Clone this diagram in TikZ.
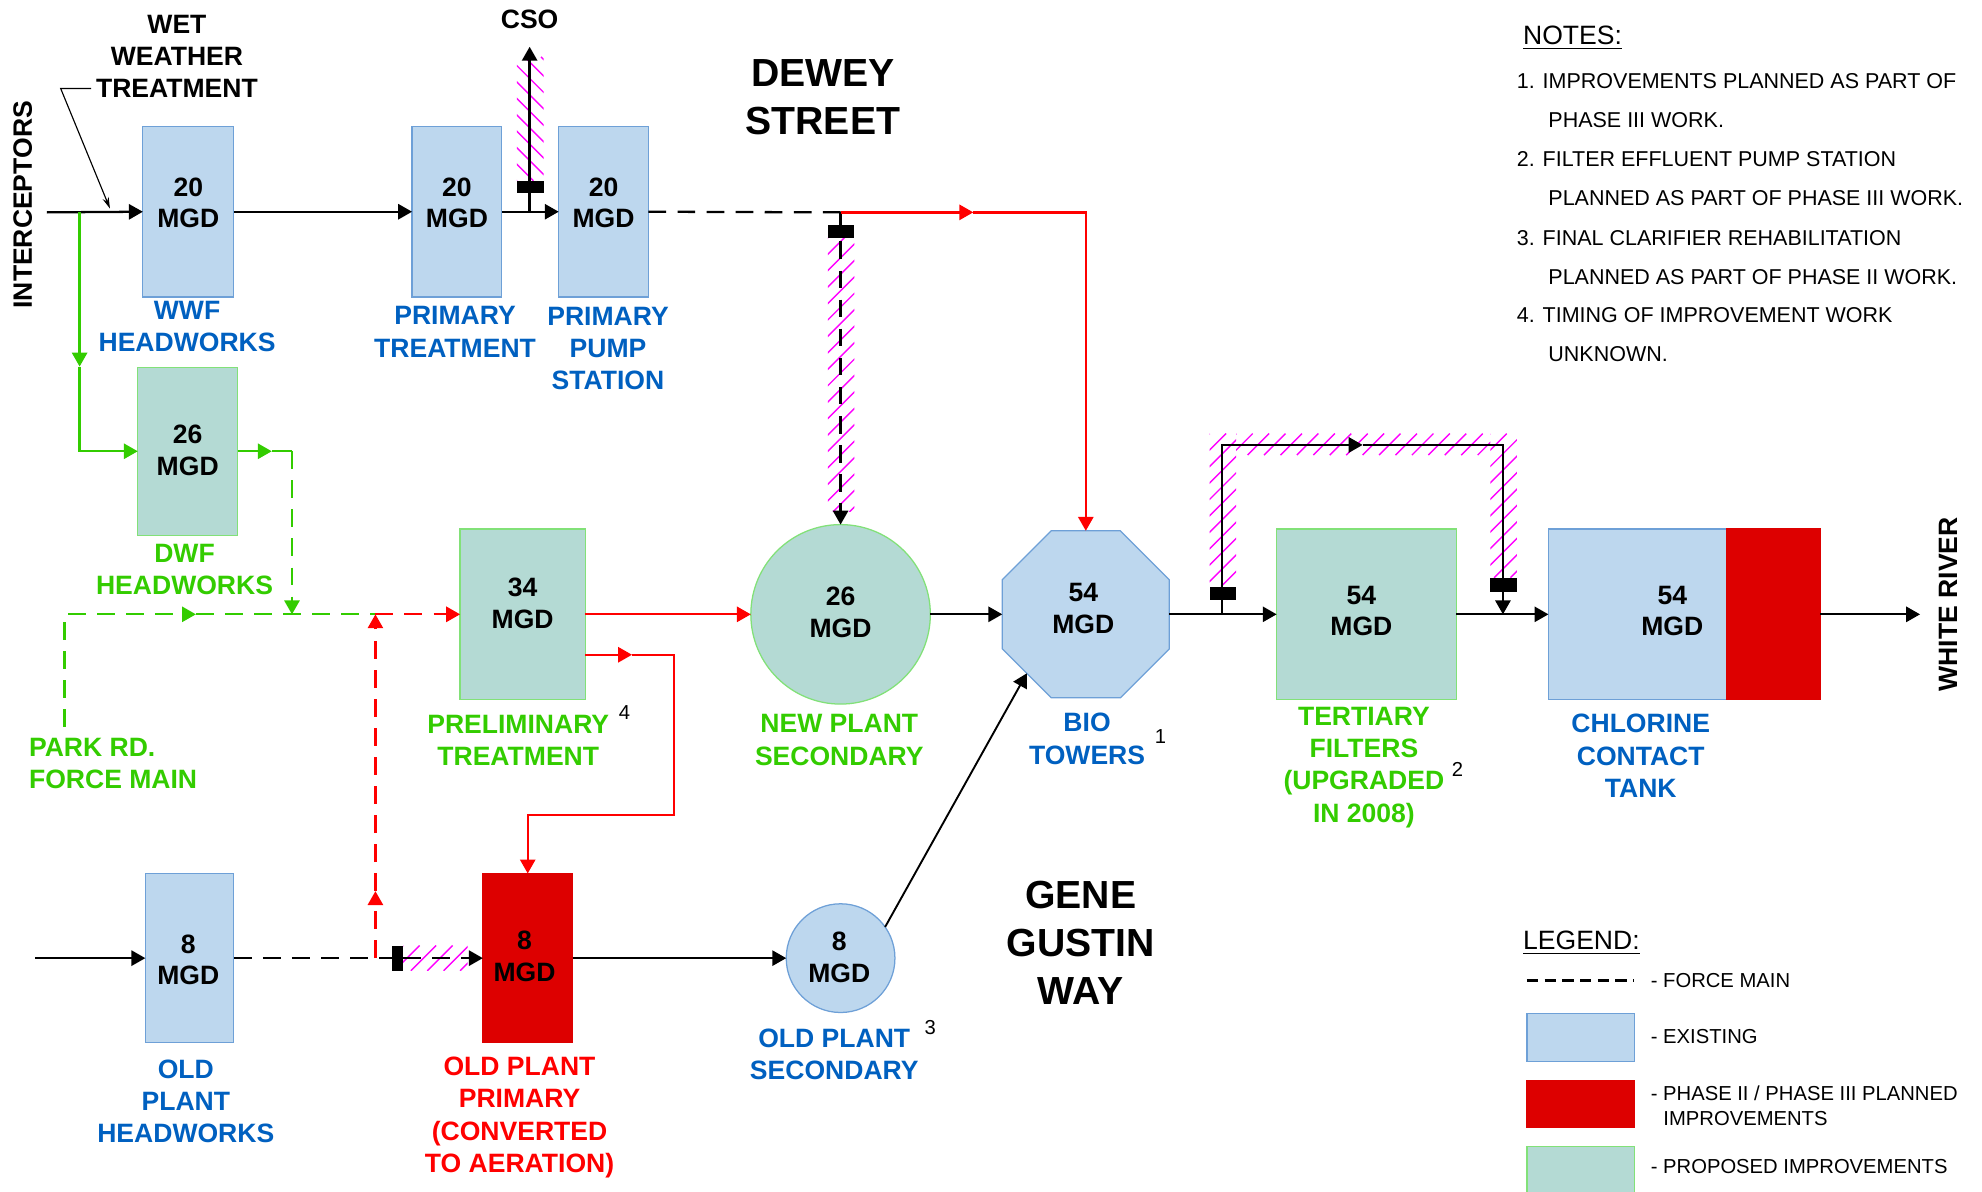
\documentclass[tikz,border=0pt]{standalone}
\usepackage{fontspec}
\setmainfont{Liberation Sans}
\usetikzlibrary{arrows.meta,shapes.geometric}
\definecolor{exblue}{RGB}{189,215,238}
\definecolor{exblueb}{RGB}{110,160,215}
\definecolor{prgreen}{RGB}{180,218,212}
\definecolor{prgreenb}{RGB}{130,225,120}
\definecolor{plred}{RGB}{221,0,0}
\definecolor{tblue}{RGB}{0,96,192}
\definecolor{tgreen}{RGB}{51,204,0}
\definecolor{tred}{RGB}{255,0,0}
\definecolor{hatchc}{RGB}{255,0,255}
\tikzset{
 every node/.style={inner sep=0pt, outer sep=0pt},
 sz/.style 2 args={minimum width=#1pt, minimum height=#2pt},
 bx/.style={draw, line width=1pt},
 blubox/.style={bx, fill=exblue, draw=exblueb},
 grnbox/.style={bx, fill=prgreen, draw=prgreenb},
 redbox/.style={bx, fill=plred, draw=plred},
 mgd/.style={font=\fontsize{21}{25}\selectfont\bfseries, align=center},
 lab/.style={font=\fontsize{21}{25.5}\selectfont\bfseries, align=center},
 bigtxt/.style={font=\fontsize{31}{38}\selectfont\bfseries, align=center},
 supnum/.style={font=\fontsize{16}{16}\selectfont},
 notetxt/.style={font=\fontsize{17}{20}\selectfont, anchor=west},
 headtxt/.style={font=\fontsize{21}{25}\selectfont, anchor=west},
 flowline/.style={line width=1.8pt},
 arrowed/.style={-{Triangle[length=11pt,width=12pt]}},
 fm/.style={flowline, dash pattern=on 14pt off 9pt},
 redline/.style={flowline, draw=tred},
 redfm/.style={fm, draw=tred},
 grnline/.style={flowline, draw=tgreen},
 grnfm/.style={fm, draw=tgreen},
 valve/.style={fill=black},
 hatchline/.style={draw=hatchc, line width=1.1pt},
}
% hatched band: x1, y1 (top), x2, y2 (bottom)
\newcommand\hatchNE[4]{%
 \begin{scope}
 \clip (#1,#2) rectangle (#3,#4);
 \pgfmathsetmacro\hH{#4-#2}%
 \pgfmathsetmacro\wW{#3-#1}%
 \pgfmathsetmacro\sA{-\hH}%
 \pgfmathsetmacro\sB{-\hH+13}%
 \foreach \s in {\sA,\sB,...,\wW} \draw[hatchline] ({#1+\s},#4) -- ++(\hH,-\hH);
 \end{scope}}
\newcommand\hatchNW[4]{%
 \begin{scope}
 \clip (#1,#2) rectangle (#3,#4);
 \pgfmathsetmacro\hH{#4-#2}%
 \pgfmathsetmacro\wW{#3-#1}%
 \pgfmathsetmacro\sA{-\hH}%
 \pgfmathsetmacro\sB{-\hH+13}%
 \foreach \s in {\sA,\sB,...,\wW} \draw[hatchline] ({#1+\s},#2) -- ++(\hH,\hH);
 \end{scope}}
\begin{document}
\begin{tikzpicture}[x=1pt,y=-1pt]
\useasboundingbox (0,0) rectangle (1568,943);

% ---------------- boxes ----------------
\node[blubox, sz={72}{135}] (wwf) at (149,167.5) {};
\node[blubox, sz={71}{135}] (pt) at (361.5,167.5) {};
\node[blubox, sz={71}{135}] (pps) at (477.5,167.5) {};
\node[grnbox, sz={79}{133}] (dwf) at (148.5,357) {};
\node[grnbox, sz={99}{135}] (pre) at (413.5,486) {};
\node[grnbox, circle, minimum size=142pt] (nps) at (665,486) {};
\node[blubox, regular polygon, regular polygon sides=8, minimum size=143pt] (bio) at (859,486) {};
\node[grnbox, sz={142}{135}] (tf) at (1081,486) {};
\node[blubox, sz={141}{135}] (cct) at (1295.5,486) {};
\node[redbox, sz={74}{135}] (cctr) at (1403,486) {};
\node[blubox, sz={70}{134}] (ohw) at (150,758) {};
\node[redbox, sz={71}{134}] (opp) at (417.5,758) {};
\node[blubox, circle, minimum size=86pt] (ops) at (665,758) {};

% capacities
\node[mgd] at (149,160.5) {20\\MGD};
\node[mgd] at (361.5,160.5) {20\\MGD};
\node[mgd] at (477.5,160.5) {20\\MGD};
\node[mgd] at (148.5,356.5) {26\\MGD};
\node[mgd] at (413.5,477.5) {34\\MGD};
\node[mgd] at (665,484.5) {26\\MGD};
\node[mgd] at (857,481.5) {54\\MGD};
\node[mgd] at (1077,483.5) {54\\MGD};
\node[mgd] at (1323,483.5) {54\\MGD};
\node[mgd] at (149,759.5) {8\\MGD};
\node[mgd] at (415,756.5) {8\\MGD};
\node[mgd] at (664,757.5) {8\\MGD};

% ---------------- hatching ----------------
\hatchNW{409}{45}{430}{143}
\hatchNE{655}{188}{676}{405}
\hatchNE{957}{343}{978}{464}
\hatchNE{978}{343}{1179}{360}
\hatchNE{1179}{343}{1200}{457}
\hatchNE{319}{748}{370}{768}

% ---------------- top line ----------------
\coordinate (inA) at (37,168);
\draw[flowline,arrowed] (inA) -- (wwf.west);
\draw[flowline,arrowed] (wwf.east) -- (pt.west);
\draw[flowline,arrowed] (pt.east) -- (pps.west);
\coordinate (csoJ) at (419,168);
\coordinate (csoT) at (419,37);
\draw[flowline,arrowed] (csoJ) -- (csoT);
\fill[valve] (409,143) rectangle (430,153);

\coordinate (fmJ) at (665,168);
\draw[fm] (pps.east) -- (fmJ);
\draw[fm,arrowed] (fmJ) -- (nps.north);
\fill[valve] (655,178) rectangle (676,188);

\coordinate (rM) at (770,168);
\coordinate (rC) at (859,168);
\draw[redline,arrowed] (fmJ) -- (rM);
\draw[redline,arrowed] (rM) -- (rC) -- (bio.north);

% ---------------- green ----------------
\coordinate (g1) at (63,168);
\coordinate (g2) at (63,290);
\coordinate (g3) at (63,357);
\draw[grnline,arrowed] (g1) -- (g2);
\draw[grnline,arrowed] (g2) -- (g3) -- (dwf.west);
\coordinate (g4) at (215,357);
\coordinate (g5) at (231,357);
\coordinate (g6) at (231,486);
\draw[grnline,arrowed] (dwf.east) -- (g4);
\draw[grnline] (g4) -- (g5);
\draw[grnfm,arrowed] (g5) -- (g6);
\coordinate (p1) at (51,575);
\coordinate (p2) at (51,486);
\coordinate (p3) at (155,486);
\coordinate (j1) at (297,486);
\draw[grnfm,arrowed] (p1) -- (p2) -- (p3);
\draw[grnfm] (p3) -- (j1);

% ---------------- red ----------------
\coordinate (j2) at (297,758);
\coordinate (rv1) at (297,705);
\draw[redfm,arrowed] (j1) -- (pre.west);
\draw[redfm,arrowed] (j2) -- (rv1);
\draw[redfm,arrowed] (rv1) -- (j1);
\draw[redline,arrowed] (pre.east) -- (nps.west);
\coordinate (r2) at (500,518);
\coordinate (r3) at (533,518);
\coordinate (r4) at (533,645);
\draw[redline,arrowed] ([yshift=-32pt]pre.east) -- (r2);
\draw[redline,arrowed] (r2) -- (r3) -- (r4) -- (opp.north |- r4) -- (opp.north);

% ---------------- secondary / tertiary ----------------
\draw[flowline,arrowed] (nps.east) -- (bio.west);
\draw[flowline,arrowed] (bio.east) -- (tf.west);
\coordinate (b1) at (967,486);
\coordinate (b2) at (967,352);
\coordinate (b3) at (1078,352);
\coordinate (b4) at (1189,352);
\coordinate (b5) at (1189,486);
\draw[flowline,arrowed] (b1) -- (b2) -- (b3);
\draw[flowline,arrowed] (b3) -- (b4) -- (b5);
\fill[valve] (957,464) rectangle (978,475);
\fill[valve] (1179,457) rectangle (1200,468);
\draw[flowline,arrowed] (tf.east) -- (cct.west);
\coordinate (wr) at (1519,486);
\draw[flowline,arrowed] (cctr.east) -- (wr);

% ---------------- bottom line ----------------
\coordinate (in2) at (28,758);
\draw[flowline,arrowed] (in2) -- (ohw.west);
\coordinate (v5) at (310,758);
\coordinate (v5r) at (319,758);
\draw[fm] (ohw.east) -- (v5);
\draw[fm,arrowed] (v5r) -- (opp.west);
\fill[valve] (310,748) rectangle (319,768);
\draw[flowline,arrowed] (opp.east) -- (ops.west);
\draw[line width=1.5pt,arrowed] (ops.35) -- (bio.225);

% ---------------- labels ----------------
\node[rotate=90, font=\fontsize{21}{25}\selectfont\bfseries] at (18,162) {INTERCEPTORS};
\node[rotate=90, font=\fontsize{21}{25}\selectfont\bfseries] at (1541,478) {WHITE RIVER};
\node[lab] (wwt) at (140,44.5) {WET\\WEATHER\\TREATMENT};
\coordinate (c1) at (72,70);
\coordinate (c2) at (48,70);
\coordinate (c3) at (87,165);
\draw[line width=0.9pt, -{Stealth[length=9pt,width=5pt]}] (c1) -- (c2) -- (c3);
\node[lab] at (419,15) {CSO};
\node[bigtxt] at (651,77) {DEWEY\\STREET};
\node[bigtxt] at (855,746) {GENE\\GUSTIN\\WAY};

\node[lab, text=tblue] at (148,258.5) {WWF\\HEADWORKS};
\node[lab, text=tblue] at (360,262.5) {PRIMARY\\TREATMENT};
\node[lab, text=tblue] at (481,275.5) {PRIMARY\\PUMP\\STATION};
\node[lab, text=tgreen] at (146,450.5) {DWF\\HEADWORKS};
\node[lab, text=tgreen, align=left, anchor=west] at (23,604) {PARK RD.\\FORCE MAIN};
\node[lab, text=tgreen] at (410,585.5) {PRELIMINARY\\TREATMENT};
\node[lab, text=tgreen] at (664,585.5) {NEW PLANT\\SECONDARY};
\node[lab, text=tblue] at (860,584.5) {BIO\\TOWERS};
\node[lab, text=tgreen] at (1079,607) {TERTIARY\\FILTERS\\(UPGRADED\\IN 2008)};
\node[lab, text=tblue] at (1298,598) {CHLORINE\\CONTACT\\TANK};
\node[lab, text=tblue] at (147,871.5) {OLD\\PLANT\\HEADWORKS};
\node[lab, text=tred] at (411,884) {OLD PLANT\\PRIMARY\\(CONVERTED\\TO AERATION)};
\node[lab, text=tblue] at (660,834) {OLD PLANT\\SECONDARY};
\node[supnum] at (494,564) {4};
\node[supnum] at (918,583) {1};
\node[supnum] at (1153,609) {2};
\node[supnum] at (736,813) {3};

% ---------------- notes ----------------
\node[headtxt] (notesh) at (1205,28) {NOTES:};
\draw[line width=1.2pt] ([yshift=-3pt]notesh.south west) -- ([yshift=-3pt]notesh.south east);
\node[notetxt] at (1200,64) {1. IMPROVEMENTS PLANNED AS PART OF};
\node[notetxt] at (1225,95) {PHASE III WORK.};
\node[notetxt] at (1200,126) {2. FILTER EFFLUENT PUMP STATION};
\node[notetxt] at (1225,157) {PLANNED AS PART OF PHASE III WORK.};
\node[notetxt] at (1200,188) {3. FINAL CLARIFIER REHABILITATION};
\node[notetxt] at (1225,219) {PLANNED AS PART OF PHASE II WORK.};
\node[notetxt] at (1200,249) {4. TIMING OF IMPROVEMENT WORK};
\node[notetxt] at (1225,280) {UNKNOWN.};

% ---------------- legend ----------------
\node[headtxt] (legh) at (1205,744) {LEGEND:};
\draw[line width=1.2pt] ([yshift=-3pt]legh.south west) -- ([yshift=-3pt]legh.south east);
\coordinate (l1a) at (1208,776);
\coordinate (l1b) at (1293,776);
\draw[line width=2.5pt, dash pattern=on 9pt off 5pt] (l1a) -- (l1b);
\node[notetxt, font=\fontsize{16}{20}\selectfont] at (1306,776) {- FORCE MAIN};
\node[blubox, sz={85}{38}] (lgb) at (1250.5,821) {};
\node[notetxt, font=\fontsize{16}{20}\selectfont] at (1306,820) {- EXISTING};
\node[redbox, sz={85}{37}] (lgr) at (1250.5,873.5) {};
\node[notetxt, font=\fontsize{16}{20}\selectfont] at (1306,865) {- PHASE II / PHASE III PLANNED};
\node[notetxt, font=\fontsize{16}{20}\selectfont] at (1316,885) {IMPROVEMENTS};
\node[grnbox, sz={85}{40}] (lgg) at (1250.5,927) {};
\node[notetxt, font=\fontsize{16}{20}\selectfont] at (1306,923) {- PROPOSED IMPROVEMENTS};
\end{tikzpicture}
\end{document}
